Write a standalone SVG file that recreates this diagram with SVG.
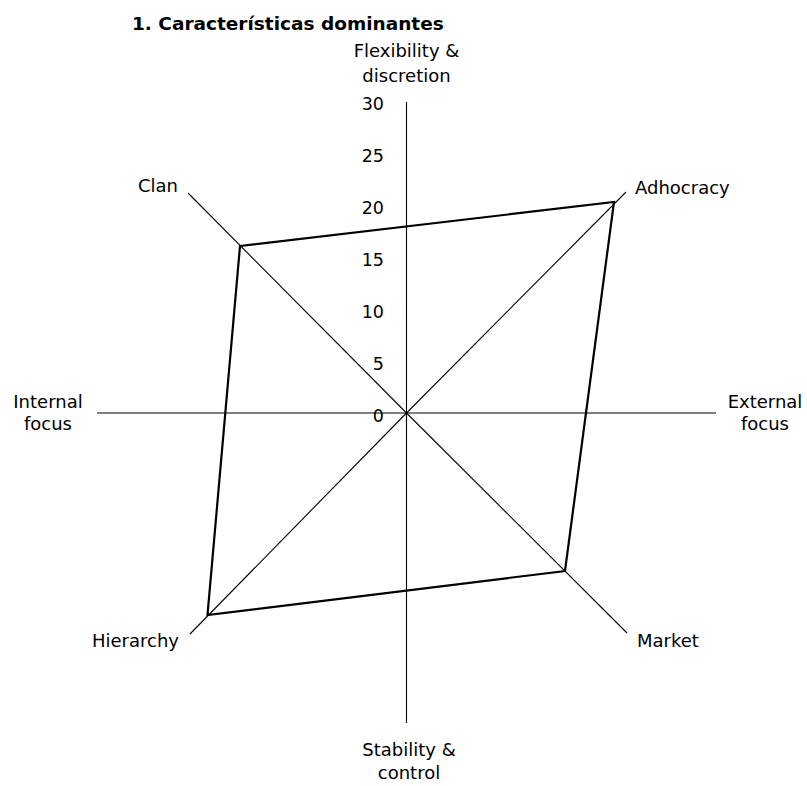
<svg xmlns="http://www.w3.org/2000/svg" width="807" height="786" viewBox="0 0 807 786">
  <style>
    .lbl { font-family: "DejaVu Sans", Verdana, sans-serif; font-size: 18px; fill: #000; }
    .num { font-family: "DejaVu Sans", Verdana, sans-serif; font-size: 17.5px; fill: #000; text-anchor: end; }
    .title { font-family: "DejaVu Sans", Verdana, sans-serif; font-size: 18.5px; font-weight: bold; fill: #000; }
    .axis { stroke: #000; stroke-width: 1.1; fill: none; }
    .data { stroke: #000; stroke-width: 2.2; fill: none; stroke-linejoin: miter; }
  </style>
  <rect width="807" height="786" fill="#fff"/>

  <text class="title" x="132" y="30">1. Características dominantes</text>

  <!-- axes -->
  <g id="connectors">
    <line class="axis" x1="406.5" y1="102" x2="406.5" y2="723"/>
    <line class="axis" x1="97" y1="413" x2="716" y2="413"/>
    <line class="axis" x1="188" y1="193" x2="406.5" y2="413"/>
    <line class="axis" x1="626" y1="192" x2="406.5" y2="413"/>
    <line class="axis" x1="627" y1="633" x2="406.5" y2="413"/>
    <line class="axis" x1="190" y1="634" x2="406.5" y2="413"/>
  </g>

  <!-- scale labels -->
  <g id="scale">
    <text class="num" x="384" y="110">30</text>
    <text class="num" x="384" y="162">25</text>
    <text class="num" x="384" y="214">20</text>
    <text class="num" x="384" y="266">15</text>
    <text class="num" x="384" y="318">10</text>
    <text class="num" x="384" y="370">5</text>
    <text class="num" x="384" y="422">0</text>
  </g>

  <!-- profile polygon -->
  <g id="profile">
    <polygon class="data" points="240,246 614,202 565,571 207.5,615"/>
  </g>

  <g id="flexibility">
    <text class="lbl" x="406.5" y="57" text-anchor="middle">Flexibility &amp;</text>
    <text class="lbl" x="406.5" y="82" text-anchor="middle">discretion</text>
  </g>
  <g id="stability">
    <text class="lbl" x="409" y="756" text-anchor="middle">Stability &amp;</text>
    <text class="lbl" x="409" y="779" text-anchor="middle">control</text>
  </g>
  <g id="internal">
    <text class="lbl" x="48" y="408" text-anchor="middle">Internal</text>
    <text class="lbl" x="48" y="430" text-anchor="middle">focus</text>
  </g>
  <g id="external">
    <text class="lbl" x="765" y="408" text-anchor="middle">External</text>
    <text class="lbl" x="765" y="430" text-anchor="middle">focus</text>
  </g>
  <g id="clan">
    <text class="lbl" x="138" y="192">Clan</text>
  </g>
  <g id="adhocracy">
    <text class="lbl" x="635" y="194">Adhocracy</text>
  </g>
  <g id="hierarchy">
    <text class="lbl" x="92" y="647">Hierarchy</text>
  </g>
  <g id="market">
    <text class="lbl" x="637" y="647">Market</text>
  </g>
</svg>
